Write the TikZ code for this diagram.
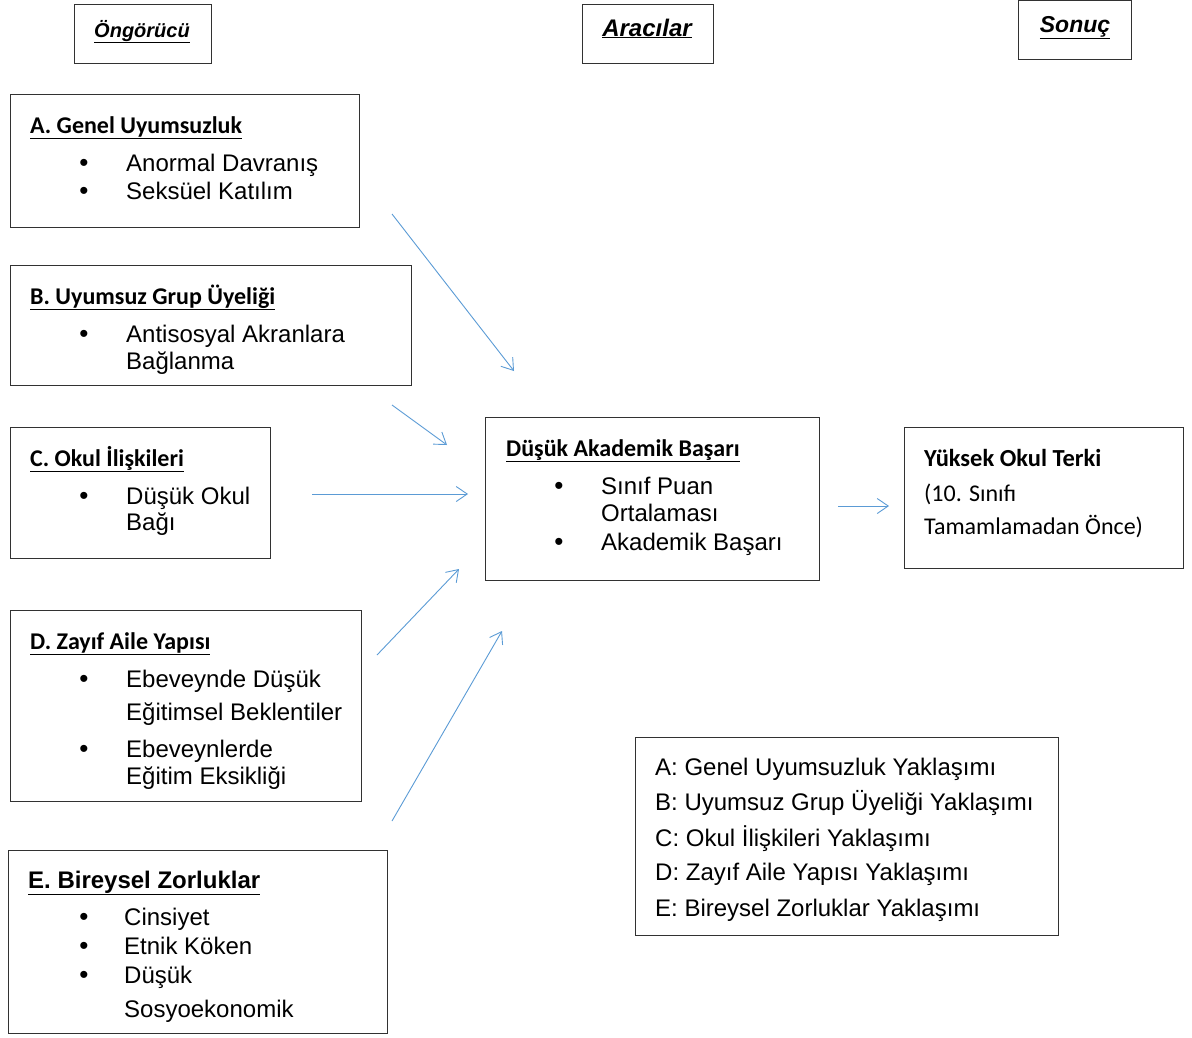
\documentclass[tikz,border=0pt]{standalone}
\usepackage{fontspec}
\setmainfont{Liberation Sans}
\newfontfamily\carl{Carlito}
\usetikzlibrary{arrows.meta}
\definecolor{arrowblue}{RGB}{91,155,213}
\definecolor{boxline}{RGB}{50,50,50}
\begin{document}
\begin{tikzpicture}[x=1pt,y=-1pt,
  box/.style={draw=boxline, line width=1pt, anchor=north west, inner sep=0pt},
  lnk/.style={draw=arrowblue, line width=0.9pt, -{Straight Barb[length=11pt,width=15pt,line width=0.9pt]}},
  ttl/.style={anchor=base west, inner sep=0pt, font=\carl\bfseries\fontsize{24}{28}\selectfont},
  hdr/.style={anchor=base, inner sep=0pt, font=\bfseries\itshape\fontsize{22}{26}\selectfont},
  itm/.style={anchor=base west, inner sep=0pt, font=\fontsize{24}{28}\selectfont},
  bul/.style={anchor=base, inner sep=0pt, font=\fontsize{26}{28}\selectfont},
  leg/.style={anchor=base west, inner sep=0pt, font=\fontsize{24}{28}\selectfont},
  outtxt/.style={anchor=base west, inner sep=0pt, font=\carl\fontsize{24}{28}\selectfont},
]
\useasboundingbox (0,0) rectangle (1192,1037);

% header boxes
\node[box, minimum width=137pt, minimum height=59pt] (h1) at (74,4) {};
\node[box, minimum width=131pt, minimum height=59pt] (h2) at (582,4) {};
\node[box, minimum width=113pt, minimum height=59pt] (h3) at (1018,0) {};
\node[hdr, font=\bfseries\itshape\fontsize{20}{24}\selectfont] (h1t) at (142,37) {\underline{Öngörücü}};
\node[hdr, font=\bfseries\itshape\fontsize{24}{28}\selectfont] (h2t) at (647,36) {\underline{Aracılar}};
\node[hdr, font=\bfseries\itshape\fontsize{23}{27}\selectfont] (h3t) at (1075,32) {\underline{Sonuç}};

% box A
\node[box, minimum width=349pt, minimum height=133pt] (A) at (10,94) {};
\node[ttl] (At) at (30,133) {\underline{A. Genel Uyumsuzluk}};
\node[bul] (Ab1) at (84,171) {•};
\node[itm] (Ai1) at (126,171) {Anormal Davranış};
\node[bul] (Ab2) at (84,199) {•};
\node[itm] (Ai2) at (126,199) {Seksüel Katılım};

% box B
\node[box, minimum width=401pt, minimum height=120pt] (B) at (10,265) {};
\node[ttl] (Bt) at (30,304) {\underline{B. Uyumsuz Grup Üyeliği}};
\node[bul] (Bb1) at (84,342) {•};
\node[itm] (Bi1) at (126,342) {Antisosyal Akranlara};
\node[itm] (Bi2) at (126,369) {Bağlanma};

% box C
\node[box, minimum width=260pt, minimum height=131pt] (C) at (10,427) {};
\node[ttl] (Ct) at (30,466) {\underline{C. Okul İlişkileri}};
\node[bul] (Cb1) at (84,504) {•};
\node[itm] (Ci1) at (126,504) {Düşük Okul};
\node[itm] (Ci2) at (126,530) {Bağı};

% box D
\node[box, minimum width=351pt, minimum height=191pt] (D) at (10,610) {};
\node[ttl] (Dt) at (30,649) {\underline{D. Zayıf Aile Yapısı}};
\node[bul] (Db1) at (84,687) {•};
\node[itm] (Di1) at (126,687) {Ebeveynde Düşük};
\node[itm] (Di2) at (126,720) {Eğitimsel Beklentiler};
\node[bul] (Db2) at (84,757) {•};
\node[itm] (Di3) at (126,757) {Ebeveynlerde};
\node[itm] (Di4) at (126,784) {Eğitim Eksikliği};

% box E
\node[box, minimum width=379pt, minimum height=183pt] (E) at (8,850) {};
\node[itm, font=\bfseries\fontsize{24}{28}\selectfont] (Et) at (28,888) {\underline{E. Bireysel Zorluklar}};
\node[bul] (Eb1) at (84,925) {•};
\node[itm] (Ei1) at (124,925) {Cinsiyet};
\node[bul] (Eb2) at (84,954) {•};
\node[itm] (Ei2) at (124,954) {Etnik Köken};
\node[bul] (Eb3) at (84,983) {•};
\node[itm] (Ei3) at (124,983) {Düşük};
\node[itm] (Ei4) at (124,1017) {Sosyoekonomik};

% mediator
\node[box, minimum width=334pt, minimum height=163pt] (M) at (485,417) {};
\node[ttl] (Mt) at (506,456) {\underline{Düşük Akademik Başarı}};
\node[bul] (Mb1) at (559,494) {•};
\node[itm] (Mi1) at (601,494) {Sınıf Puan};
\node[itm] (Mi2) at (601,521) {Ortalaması};
\node[bul] (Mb2) at (559,550) {•};
\node[itm] (Mi3) at (601,550) {Akademik Başarı};

% outcome
\node[box, minimum width=279pt, minimum height=141pt] (O) at (904,427) {};
\node[ttl, font=\carl\bfseries\fontsize{24.5}{28}\selectfont] (Ot) at (924,466) {Yüksek Okul Terki};
\node[outtxt] (Oi1) at (924,501) {(10. Sınıfı};
\node[outtxt] (Oi2) at (924,534) {Tamamlamadan Önce)};

% legend
\node[box, minimum width=423pt, minimum height=198pt] (L) at (635,737) {};
\node[leg] (L1) at (655,775) {A: Genel Uyumsuzluk Yaklaşımı};
\node[leg] (L2) at (655,810) {B: Uyumsuz Grup Üyeliği Yaklaşımı};
\node[leg] (L3) at (655,846) {C: Okul İlişkileri Yaklaşımı};
\node[leg] (L4) at (655,880) {D: Zayıf Aile Yapısı Yaklaşımı};
\node[leg] (L5) at (655,916) {E: Bireysel Zorluklar Yaklaşımı};

% arrows
\coordinate (a1s) at (392,214); \coordinate (a1e) at (514,371);
\coordinate (a2s) at (392,405); \coordinate (a2e) at (447,445);
\coordinate (a3s) at (312,494); \coordinate (a3e) at (468,494);
\coordinate (a4s) at (377,655); \coordinate (a4e) at (459,569);
\coordinate (a5s) at (392,821); \coordinate (a5e) at (502,631);
\coordinate (a6s) at (838,506); \coordinate (a6e) at (889,506);
\draw[lnk] (a1s) -- (a1e);
\draw[lnk] (a2s) -- (a2e);
\draw[lnk] (a3s) -- (a3e);
\draw[lnk] (a4s) -- (a4e);
\draw[lnk] (a5s) -- (a5e);
\draw[lnk] (a6s) -- (a6e);
\end{tikzpicture}
\end{document}
